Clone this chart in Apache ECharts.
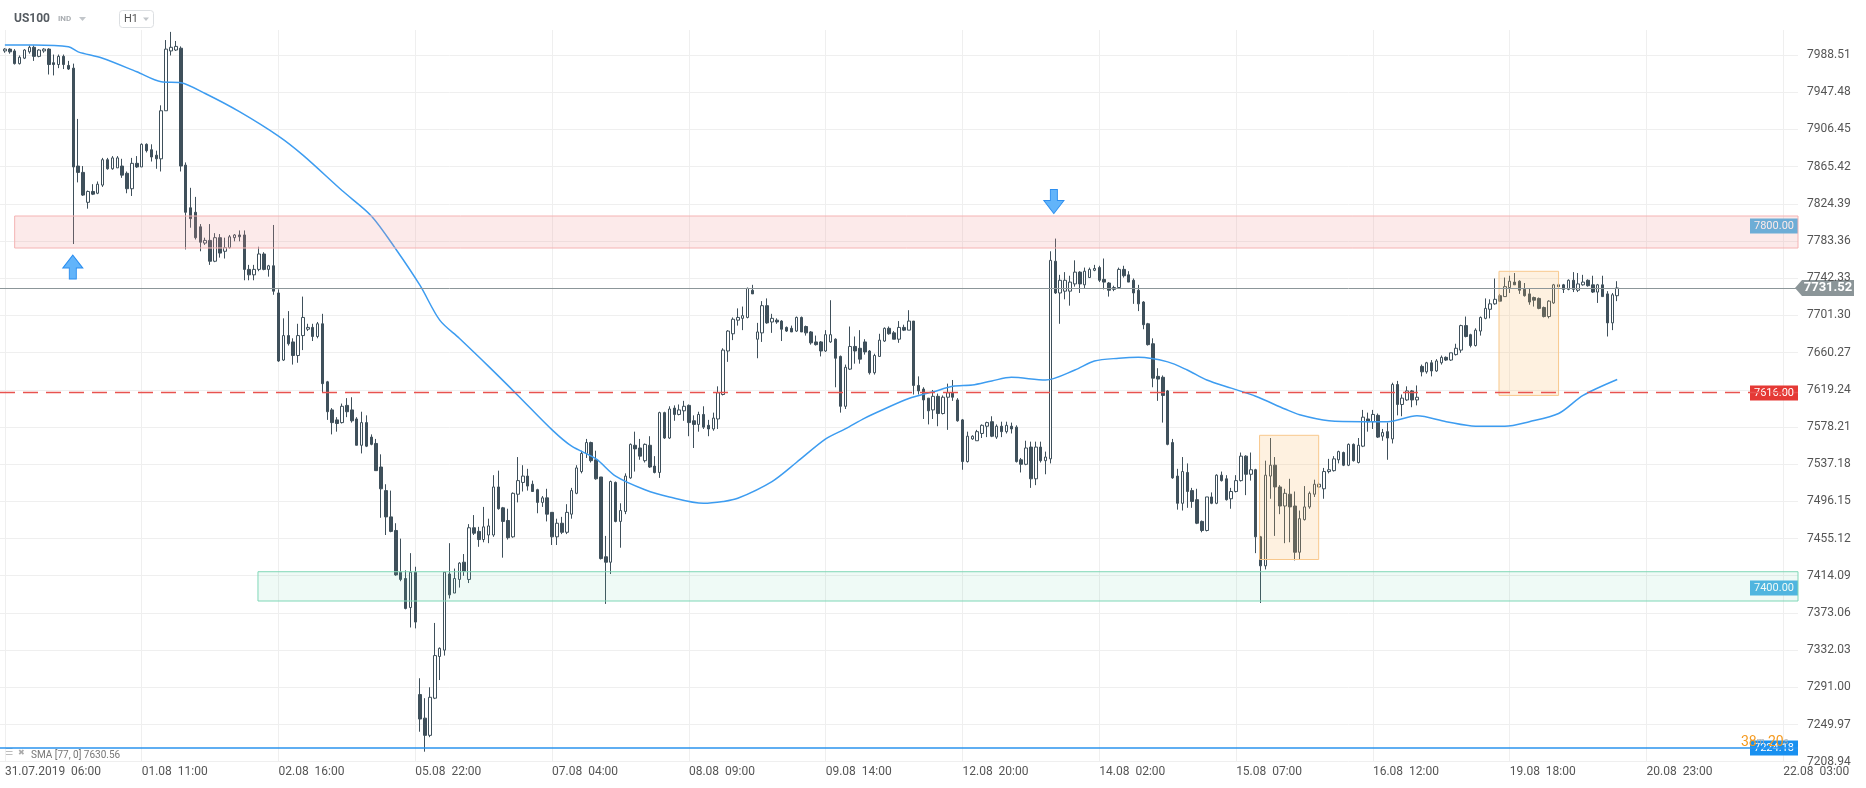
<!DOCTYPE html>
<html>
<head>
<meta charset="utf-8">
<title>US100 H1</title>
<script src="https://cdn.jsdelivr.net/npm/echarts@6/dist/echarts.min.js"></script>
<style>
html, body { margin: 0; padding: 0; background: #fff; }
#chart { width: 1866px; height: 788px; }
</style>
</head>
<body>
<div id="chart"></div>
<script>
// time labels, one every 28 hourly bars
const tickLabels = ['31.07.2019  06:00', '01.08  11:00', '02.08  16:00', '05.08  22:00', '07.08  04:00',
  '08.08  09:00', '09.08  14:00', '12.08  20:00', '14.08  02:00', '15.08  07:00', '16.08  12:00',
  '19.08  18:00', '20.08  23:00', '22.08  03:00'];
const LABEL_STEP = 28;
const SLOTS = 369; // one empty slot before the first bar + free room on the right

// H1 candles
const openVals = [
  7993,7995,7993,7979,7985,7992,7997,7987,7993,7995, 7980,7978,7987,7977,7974,7866,7859,7826,7838,7836,
  7845,7873,7863,7864,7866,7858,7841,7869,7865,7890, 7884,7878,7874,7927,7993,7994,7996,7867,7820,7815,
  7799,7781,7784,7761,7787,7772,7776,7787,7790,7790, 7752,7746,7752,7769,7752,7756,7726,7652,7679,7672,
  7657,7679,7686,7688,7678,7692,7628,7597,7586,7583, 7602,7597,7587,7558,7583,7567,7560,7534,7508,7479,
  7464,7418,7411,7379,7418,7283,7257,7238,7279,7325, 7332,7416,7395,7410,7429,7410,7467,7463,7454,7459,
  7459,7512,7489,7475,7457,7504,7517,7524,7515,7509, 7495,7500,7484,7457,7472,7462,7482,7505,7529,7549,
  7561,7542,7523,7435,7429,7517,7474,7485,7522,7558, 7555,7541,7558,7535,7528,7594,7566,7599,7592,7596,
  7602,7585,7581,7592,7580,7576,7587,7614,7662,7681, 7696,7698,7699,7729,7675,7682,7712,7694,7696,7695,
  7688,7687,7684,7699,7689,7683,7672,7672,7662,7672, 7675,7656,7601,7642,7667,7665,7672,7662,7638,7656,
  7673,7687,7682,7675,7688,7685,7695,7624,7620,7610, 7597,7612,7593,7611,7616,7608,7586,7540,7565,7563,
  7571,7579,7584,7567,7579,7573,7579,7578,7542,7537, 7556,7521,7556,7541,7543,7761,7726,7728,7728,7736,
  7749,7735,7743,7751,7754,7741,7737,7730,7732,7752, 7746,7740,7729,7716,7692,7670,7634,7633,7618,7561,
  7524,7494,7528,7508,7498,7474,7464,7501,7494,7525, 7521,7499,7507,7519,7546,7526,7531,7457,7425,7524,
  7536,7512,7491,7504,7491,7440,7476,7490,7504,7512, 7510,7529,7530,7542,7550,7536,7559,7539,7557,7587,
  7584,7591,7568,7573,7565,7625,7603,7608,7618,7608, 7645,7639,7649,7640,7649,7655,7652,7658,7663,7690,
  7680,7668,7684,7698,7708,7714,7723,7722,7732,7738, 7739,7730,7725,7721,7720,7710,7700,7715,7735,7735,
  7730,7740,7729,7735,7740,7735,7727,7735,7725,7693, 7723
];
const highVals = [
  7996,7996,7995,7988,7995,7999,7999,7995,7996,7996, 7989,7989,7989,7982,7979,7918,7866,7839,7846,7849,
  7875,7875,7877,7877,7874,7860,7875,7877,7891,7891, 7890,7883,7933,8005,8014,8004,7998,7870,7842,7832,
  7802,7787,7802,7792,7791,7787,7790,7791,7795,7795, 7757,7757,7777,7771,7757,7801,7730,7698,7706,7676,
  7692,7722,7692,7692,7694,7703,7629,7599,7589,7604, 7610,7611,7589,7595,7591,7570,7565,7548,7515,7508,
  7472,7455,7420,7439,7424,7301,7279,7291,7362,7335, 7418,7450,7422,7429,7438,7471,7481,7468,7490,7477,
  7525,7530,7490,7488,7506,7545,7536,7532,7519,7510, 7502,7510,7484,7477,7479,7493,7511,7536,7552,7565,
  7562,7552,7523,7458,7519,7518,7494,7527,7560,7573, 7565,7560,7568,7546,7595,7595,7601,7602,7603,7607,
  7603,7591,7595,7601,7586,7594,7623,7665,7685,7699, 7709,7711,7732,7735,7693,7717,7720,7703,7698,7696,
  7689,7690,7700,7700,7690,7684,7679,7673,7685,7718, 7676,7657,7647,7689,7678,7685,7675,7663,7659,7681,
  7688,7689,7684,7695,7691,7707,7695,7634,7622,7610, 7619,7615,7613,7626,7630,7610,7587,7573,7569,7575,
  7581,7584,7590,7581,7584,7584,7583,7580,7544,7563, 7562,7562,7562,7551,7772,7786,7746,7749,7745,7762,
  7750,7754,7754,7757,7756,7764,7738,7734,7754,7756, 7750,7742,7735,7717,7693,7676,7643,7635,7619,7565,
  7532,7545,7538,7511,7510,7475,7501,7506,7526,7529, 7525,7511,7525,7550,7547,7550,7532,7458,7541,7566,
  7545,7514,7510,7521,7507,7486,7513,7507,7520,7517, 7533,7543,7546,7552,7551,7560,7560,7566,7597,7594,
  7597,7593,7576,7583,7627,7629,7614,7623,7619,7624, 7647,7650,7652,7653,7657,7656,7660,7670,7691,7700,
  7681,7687,7700,7720,7719,7742,7725,7743,7745,7748, 7740,7737,7731,7722,7721,7711,7718,7736,7737,7736,
  7741,7749,7748,7746,7741,7745,7736,7745,7728,7726, 7739
];
const lowVals = [
  7991,7990,7978,7978,7984,7990,7982,7986,7991,7967, 7966,7974,7973,7972,7780,7848,7833,7819,7834,7835,
  7843,7862,7862,7864,7853,7836,7833,7864,7865,7881, 7871,7863,7860,7927,7988,7993,7860,7774,7798,7785,
  7772,7779,7757,7760,7765,7764,7775,7783,7783,7740, 7740,7740,7750,7751,7744,7724,7650,7651,7668,7647,
  7649,7663,7684,7673,7676,7616,7586,7570,7573,7582, 7589,7583,7558,7549,7556,7558,7530,7478,7459,7462,
  7414,7408,7377,7357,7356,7242,7220,7236,7278,7299, 7326,7389,7395,7401,7414,7406,7459,7446,7451,7450,
  7457,7487,7434,7454,7456,7495,7507,7508,7507,7483, 7490,7474,7448,7448,7460,7460,7477,7504,7527,7544,
  7539,7520,7432,7383,7416,7473,7445,7482,7521,7529, 7542,7539,7533,7527,7522,7565,7565,7585,7591,7585,
  7568,7555,7573,7576,7568,7574,7576,7613,7650,7674, 7690,7685,7698,7725,7654,7672,7692,7682,7692,7673,
  7683,7683,7683,7683,7679,7669,7668,7656,7661,7671, 7622,7594,7598,7641,7648,7648,7658,7636,7636,7656,
  7672,7680,7675,7671,7684,7685,7614,7614,7587,7581, 7587,7579,7592,7575,7607,7584,7531,7539,7564,7563,
  7566,7567,7567,7565,7567,7571,7571,7539,7528,7536, 7511,7514,7539,7526,7538,7725,7692,7719,7712,7733,
  7726,7731,7743,7750,7738,7730,7722,7728,7731,7743, 7738,7714,7706,7686,7668,7622,7607,7583,7558,7521,
  7487,7486,7489,7489,7471,7462,7463,7493,7493,7518, 7497,7488,7506,7518,7503,7519,7439,7384,7421,7499,
  7458,7482,7450,7451,7431,7432,7475,7488,7501,7511, 7499,7527,7529,7538,7535,7535,7540,7538,7556,7573,
  7576,7566,7563,7542,7560,7591,7590,7607,7600,7602, 7634,7637,7634,7639,7647,7651,7651,7657,7660,7677,
  7666,7667,7679,7697,7698,7713,7716,7722,7726,7735, 7725,7722,7713,7711,7708,7699,7698,7714,7732,7726,
  7729,7727,7727,7734,7733,7726,7715,7722,7678,7685, 7717
];
const closeVals = [
  7995,7992,7979,7986,7994,7997,7987,7994,7995,7978, 7978,7987,7978,7973,7865,7859,7834,7838,7835,7846,
  7873,7863,7875,7875,7856,7841,7869,7865,7890,7883, 7876,7874,7927,7995,7997,7998,7866,7815,7808,7787,
  7782,7784,7761,7787,7770,7776,7788,7790,7788,7752, 7746,7752,7769,7752,7756,7728,7651,7679,7670,7657,
  7679,7699,7688,7678,7692,7626,7595,7583,7582,7601, 7595,7585,7558,7583,7557,7559,7530,7510,7479,7463,
  7415,7410,7378,7418,7363,7256,7238,7280,7326,7334, 7418,7393,7411,7428,7419,7467,7461,7454,7468,7469,
  7512,7488,7474,7456,7505,7519,7524,7513,7507,7495, 7500,7482,7457,7472,7462,7484,7508,7533,7549,7561,
  7541,7521,7433,7429,7518,7474,7486,7524,7559,7554, 7546,7559,7534,7528,7594,7566,7598,7592,7597,7601,
  7583,7581,7592,7578,7576,7588,7616,7663,7684,7697, 7699,7701,7731,7725,7683,7712,7693,7698,7694,7686,
  7684,7683,7699,7683,7682,7671,7669,7662,7680,7680, 7654,7601,7644,7667,7662,7653,7661,7638,7657,7674,
  7687,7681,7675,7688,7685,7695,7624,7618,7608,7596, 7612,7593,7611,7616,7611,7585,7540,7568,7568,7573,
  7580,7583,7568,7579,7573,7580,7576,7540,7537,7555, 7521,7556,7541,7545,7762,7726,7740,7740,7738,7749,
  7736,7750,7752,7753,7740,7738,7729,7732,7752,7745, 7738,7726,7714,7691,7669,7632,7631,7613,7559,7522,
  7494,7529,7507,7496,7472,7464,7501,7494,7525,7519, 7498,7507,7519,7546,7526,7531,7457,7425,7525,7536,
  7512,7491,7505,7490,7440,7477,7490,7505,7515,7515, 7529,7531,7543,7551,7536,7559,7541,7558,7589,7584,
  7592,7567,7572,7566,7625,7603,7610,7618,7608,7611, 7639,7649,7640,7651,7655,7652,7660,7665,7690,7678,
  7668,7685,7699,7709,7714,7719,7717,7733,7739,7735, 7729,7723,7716,7718,7709,7700,7717,7735,7733,7730,
  7740,7730,7736,7738,7734,7727,7735,7722,7693,7724, 7731.52
];

// SMA(77) at these bars
const smaIdx = [0, 6, 13, 15, 20, 27, 32, 36, 41, 48, 56, 61, 69, 75, 80, 85, 89, 93, 99, 105, 112, 116, 121, 125,
  131, 136, 143, 147, 150, 157, 162, 168, 172, 176, 180, 185, 190, 194, 198, 202, 206, 213, 219, 223, 228, 232,
  238, 242, 246, 251, 256, 262, 265, 271, 278, 283, 289, 295, 301, 307, 312, 318, 323, 330];
const smaVals = [7999.6, 7999.6, 7997.7, 7992, 7985, 7970, 7959, 7958, 7946, 7926, 7899, 7878, 7839, 7811, 7774.5,
  7734, 7696, 7676, 7645, 7613, 7575, 7557, 7543, 7524, 7509, 7501, 7494, 7496, 7499.5, 7518, 7539, 7565, 7576,
  7588, 7598, 7609.6, 7617, 7623, 7624.5, 7629, 7633, 7630, 7641, 7651, 7654, 7655, 7650, 7641, 7630, 7621, 7612,
  7598, 7591.6, 7585, 7584, 7584, 7590.5, 7584, 7579, 7579, 7584, 7593, 7613, 7630.56];

// price axis
const yMin = 7208.94;
const yStep = 41.03;
const yMax = 8016.09;

// drawn levels and zones
const lastPrice = 7731.52;
const dashedLevel = 7616;
const bottomLevel = 7224.18;
const resistZone = [7810.9, 7775.6];
const supportZone = [7418.5, 7386.2];
const box1 = [256.8, 268.9, 7569, 7432];
const box2 = [305.8, 318.0, 7749.9, 7613];
const arrowUp = [13.9, 7754.6];
const arrowDown = [214.7, 7826.9];

const chart = echarts.init(document.getElementById('chart'));

const cats = [];
for (let j = 0; j < SLOTS; j++) cats.push(String(j));
const candleData = [];
for (let i = 0; i < openVals.length; i++) {
  candleData.push([i + 1, openVals[i], closeVals[i], lowVals[i], highVals[i]]);
}
const smaData = smaIdx.map((idx, k) => [idx + 1, smaVals[k]]);
const isTick = idx => idx >= 1 && (idx - 1) % LABEL_STEP === 0;

const dark = '#3f505b';
const arrowPath = 'path://M10,0 L20,13 L13.5,13 L13.5,24 L6.5,24 L6.5,13 L0,13 Z';

const option = {
  animation: false,
  textStyle: { fontFamily: 'Roboto' },
  grid: { left: 0, right: 68, top: 30, bottom: 26.3 },
  xAxis: [{
    type: 'category',
    data: cats,
    boundaryGap: false,
    axisLine: { show: false },
    axisTick: { show: false },
    splitLine: { show: true, interval: isTick, lineStyle: { color: '#efefef' } },
    axisLabel: {
      interval: isTick,
      align: 'left',
      margin: 4,
      color: '#555',
      fontSize: 12,
      formatter: (v, idx) => tickLabels[(idx - 1) / LABEL_STEP] || ''
    }
  }, {
    type: 'value', min: -1, max: SLOTS - 2, show: false
  }],
  yAxis: {
    type: 'value',
    position: 'right',
    min: yMin,
    max: yMax,
    interval: yStep,
    scale: true,
    axisLine: { show: false },
    axisTick: { show: false },
    splitLine: { show: true, showMaxLine: false, lineStyle: { color: '#efefef' } },
    axisLabel: {
      showMaxLabel: false,
      margin: 9,
      color: '#555',
      fontSize: 12,
      formatter: v => v.toFixed(2)
    }
  },
  series: [{
    type: 'candlestick',
    data: candleData,
    encode: { x: 0, y: [1, 2, 3, 4] },
    barWidth: 3,
    itemStyle: { color: '#fff', color0: dark, borderColor: dark, borderColor0: dark, borderWidth: 1 },
    z: 2
  }, {
    type: 'line',
    data: smaData,
    smooth: 0.3,
    symbol: 'none',
    lineStyle: { color: '#3d9cf0', width: 1.5 },
    z: 3
  }, {
    type: 'line',
    xAxisIndex: 1,
    data: [],
    z: 6,
    markArea: {
      silent: true,
      z: 4,
      data: [
        [{ xAxis: 2, yAxis: resistZone[0], itemStyle: { color: 'rgba(240,150,150,0.2)', borderColor: '#f4b3b3', borderWidth: 1 } },
          { xAxis: SLOTS - 2, yAxis: resistZone[1] }],
        [{ xAxis: 51.8, yAxis: supportZone[0], itemStyle: { color: 'rgba(100,210,170,0.1)', borderColor: '#7fd7b7', borderWidth: 1 } },
          { xAxis: SLOTS - 2, yAxis: supportZone[1] }],
        [{ xAxis: box1[0], yAxis: box1[2], itemStyle: { color: 'rgba(250,185,100,0.2)', borderColor: '#f8c88c', borderWidth: 1 } },
          { xAxis: box1[1], yAxis: box1[3] }],
        [{ xAxis: box2[0], yAxis: box2[2], itemStyle: { color: 'rgba(250,185,100,0.2)', borderColor: '#f8c88c', borderWidth: 1 } },
          { xAxis: box2[1], yAxis: box2[3] }]
      ]
    },
    markLine: {
      silent: true,
      symbol: ['none', 'none'],
      label: { show: false },
      data: [
        { yAxis: lastPrice, lineStyle: { color: '#8c9699', width: 1, type: 'solid' } },
        { yAxis: dashedLevel, lineStyle: { color: '#e8534f', width: 1.3, type: [15, 8] } },
        { yAxis: bottomLevel, lineStyle: { color: '#2a93ee', width: 1.5, type: 'solid' } }
      ]
    },
    markPoint: {
      silent: true,
      label: { show: false },
      data: [
        { coord: arrowUp, symbol: arrowPath, symbolSize: [20, 24],
          itemStyle: { color: '#62b4fa', borderColor: '#2b8ef0', borderWidth: 1 } },
        { coord: arrowDown, symbol: arrowPath, symbolSize: [20, 24], symbolRotate: 180,
          itemStyle: { color: '#62b4fa', borderColor: '#2b8ef0', borderWidth: 1 } }
      ]
    }
  }]
};
chart.setOption(option);

// price tags on the right edge and header texts
const yPix = v => Math.round(chart.convertToPixel({ yAxisIndex: 0 }, v));
function boxTag(value, text, fill) {
  const y = yPix(value);
  return {
    type: 'group', z: 100,
    children: [
      { type: 'rect', shape: { x: 1750, y: y - 7.5, width: 48, height: 15 }, style: { fill: fill } },
      { type: 'text', x: 1774, y: y, style: { text: text, fill: '#fff', font: '11px Roboto',
        align: 'center', textAlign: 'center', verticalAlign: 'middle', textVerticalAlign: 'middle' } }
    ]
  };
}
const yl = yPix(lastPrice);
const yb = yPix(bottomLevel);
const midText = { verticalAlign: 'middle', textVerticalAlign: 'middle' };

chart.setOption({
  graphic: [
    boxTag(7800, '7800.00', '#4db3e6'),
    boxTag(dashedLevel, '7616.00', '#e53935'),
    boxTag(7400, '7400.00', '#4db3e6'),
    boxTag(bottomLevel, bottomLevel.toFixed(2), '#1890f0'),
    {
      type: 'group', z: 100,
      children: [
        { type: 'polygon', shape: { points: [[1795, yl], [1802, yl - 8], [1854, yl - 8], [1854, yl + 8], [1802, yl + 8]] },
          style: { fill: '#8b9598' } },
        { type: 'text', x: 1828, y: yl, style: Object.assign({ text: lastPrice.toFixed(2), fill: '#fff',
          font: 'bold 13px Roboto', align: 'center', textAlign: 'center' }, midText) }
      ]
    },
    { type: 'text', x: 1741, y: yb - 6, z: 101, style: Object.assign({
      text: '{a|38}{b|m} {a|20}{b|s}',
      rich: { a: { fontSize: 14, fill: '#f59a1f', color: '#f59a1f', fontFamily: 'Roboto' },
              b: { fontSize: 9, fill: '#aaa', color: '#aaa', fontFamily: 'Roboto' } }
    }, midText) },
    // header
    { type: 'text', x: 14, y: 19, style: Object.assign({ text: 'US100', fill: '#555b61', font: 'bold 12px Roboto' }, midText) },
    { type: 'text', x: 58, y: 19, style: Object.assign({ text: 'IND', fill: '#a9adb1', font: 'bold 8px Roboto' }, midText) },
    { type: 'polygon', shape: { points: [[79, 17], [86, 17], [82.5, 21]] }, style: { fill: '#c2c6ca' } },
    { type: 'rect', shape: { x: 119.5, y: 10.5, width: 34, height: 17, r: 3 }, style: { fill: '#fff', stroke: '#dcdfe2' } },
    { type: 'text', x: 124, y: 19, style: Object.assign({ text: 'H1', fill: '#555', font: '11px Roboto' }, midText) },
    { type: 'polygon', shape: { points: [[143, 17.5], [149, 17.5], [146, 21]] }, style: { fill: '#c2c6ca' } },
    // indicator legend
    { type: 'text', x: 5, y: 753, style: Object.assign({ text: '☰', fill: '#aaa', font: '9px "DejaVu Sans"' }, midText) },
    { type: 'text', x: 18, y: 753, style: Object.assign({ text: '✖', fill: '#aaa', font: '8px "DejaVu Sans"' }, midText) },
    { type: 'text', x: 31, y: 755, style: Object.assign({ text: 'SMA [77, 0] 7630.56', fill: '#777', font: '10px Roboto' }, midText) }
  ]
});
</script>
</body>
</html>
